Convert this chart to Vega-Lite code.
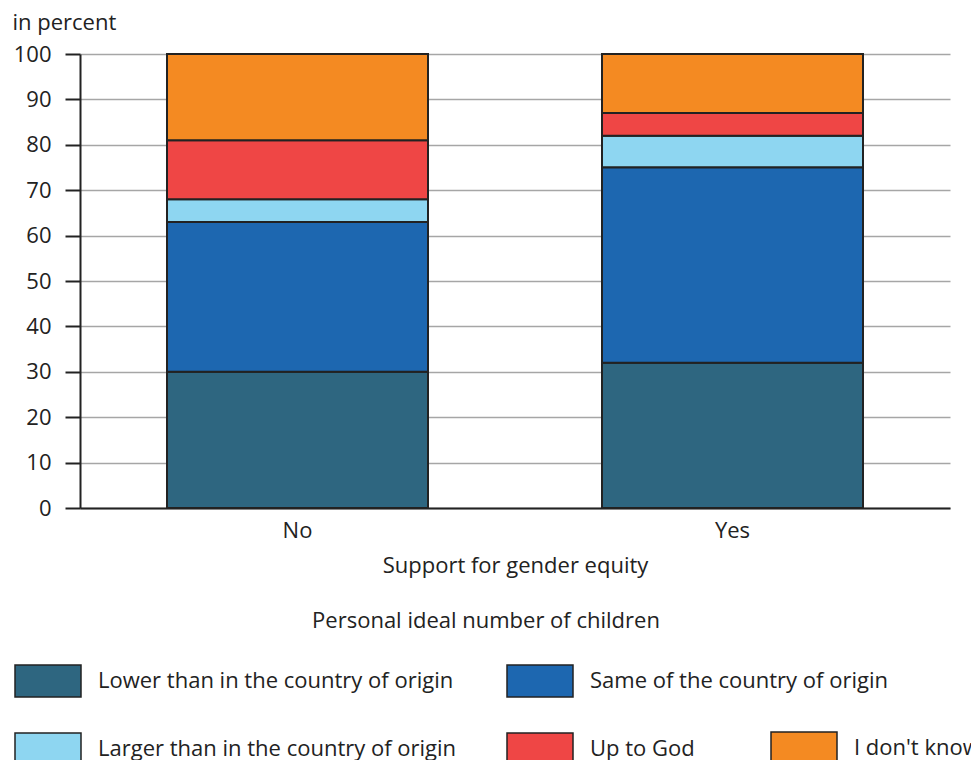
{
  "$schema": "https://vega.github.io/schema/vega-lite/v6.json",
  "autosize": {"type": "none"},
  "padding": {"left": 80, "top": 54, "right": 21, "bottom": 252},
  "width": 870,
  "height": 454,
  "config": {
    "font": "Open Sans",
    "view": {"stroke": null},
    "legend": {
      "orient": "none",
      "direction": "vertical",
      "padding": 0,
      "symbolType": "M-1,-0.485H1V0.485H-1Z",
      "symbolSize": 4356,
      "symbolStrokeColor": "#222222",
      "symbolStrokeWidth": 1.5,
      "symbolOpacity": 1,
      "labelFontSize": 22,
      "labelColor": "#222222",
      "labelOffset": 16,
      "labelLimit": 600,
      "rowPadding": 14,
      "title": null
    }
  },
  "title": {
    "text": "Personal ideal number of children",
    "orient": "bottom",
    "anchor": "middle",
    "frame": "group",
    "fontSize": 22,
    "fontWeight": "normal",
    "color": "#222222",
    "offset": -158,
    "dx": -29
  },
  "data": {
    "values": [
      {"support": "No", "category": "Lower than in the country of origin", "order": 1, "percent": 30},
      {"support": "No", "category": "Same of the country of origin", "order": 2, "percent": 33},
      {"support": "No", "category": "Larger than in the country of origin", "order": 3, "percent": 5},
      {"support": "No", "category": "Up to God", "order": 4, "percent": 13},
      {"support": "No", "category": "I don't know", "order": 5, "percent": 19},
      {"support": "Yes", "category": "Lower than in the country of origin", "order": 1, "percent": 32},
      {"support": "Yes", "category": "Same of the country of origin", "order": 2, "percent": 43},
      {"support": "Yes", "category": "Larger than in the country of origin", "order": 3, "percent": 7},
      {"support": "Yes", "category": "Up to God", "order": 4, "percent": 5},
      {"support": "Yes", "category": "I don't know", "order": 5, "percent": 13}
    ]
  },
  "transform": [
    {"stack": "percent", "groupby": ["support"], "sort": [{"field": "order", "order": "ascending"}], "as": ["y0", "y1"]}
  ],
  "encoding": {
    "x": {
      "field": "support",
      "type": "nominal",
      "scale": {"paddingInner": 0.4, "paddingOuter": 0.2},
      "axis": {
        "title": "Support for gender equity",
        "labelAngle": 0,
        "labelFontSize": 22,
        "labelColor": "#222222",
        "labelPadding": 12,
        "ticks": false,
        "domainColor": "#222222",
        "domainWidth": 2,
        "titleFontSize": 22,
        "titleFontWeight": "normal",
        "titleColor": "#222222",
        "titlePadding": 14,
        "grid": false
      }
    },
    "y": {
      "field": "y0",
      "type": "quantitative",
      "scale": {"domain": [0, 100], "nice": false},
      "axis": {
        "values": [0, 10, 20, 30, 40, 50, 60, 70, 80, 90, 100],
        "title": "in percent",
        "titleAngle": 0,
        "titleAlign": "left",
        "titleBaseline": "alphabetic",
        "titleX": -68,
        "titleY": -25,
        "titleFontSize": 22,
        "titleFontWeight": "normal",
        "titleColor": "#222222",
        "labelFontSize": 22,
        "labelColor": "#222222",
        "labelPadding": 14,
        "tickSize": 15,
        "tickColor": "#222222",
        "tickWidth": 2,
        "domainColor": "#222222",
        "domainWidth": 2,
        "gridColor": "#a6a6a6",
        "gridWidth": 1.5
      }
    },
    "y2": {"field": "y1"}
  },
  "layer": [
    {
      "transform": [{"filter": {"field": "category", "oneOf": ["Lower than in the country of origin", "Larger than in the country of origin"]}}],
      "mark": {"type": "bar", "stroke": "#222222", "strokeWidth": 2},
      "encoding": {
        "fill": {
          "field": "category",
          "type": "nominal",
          "scale": {"domain": ["Lower than in the country of origin", "Larger than in the country of origin"], "range": ["#2e6680", "#8ed6f1"]},
          "legend": {"legendX": -66, "legendY": 593}
        }
      }
    },
    {
      "transform": [{"filter": {"field": "category", "oneOf": ["Same of the country of origin", "Up to God"]}}],
      "mark": {"type": "bar", "stroke": "#222222", "strokeWidth": 2},
      "encoding": {
        "fill": {
          "field": "category",
          "type": "nominal",
          "scale": {"domain": ["Same of the country of origin", "Up to God"], "range": ["#1d67b0", "#ef4645"]},
          "legend": {"legendX": 426, "legendY": 593}
        }
      }
    },
    {
      "transform": [{"filter": {"field": "category", "oneOf": ["I don't know"]}}],
      "mark": {"type": "bar", "stroke": "#222222", "strokeWidth": 2},
      "encoding": {
        "fill": {
          "field": "category",
          "type": "nominal",
          "scale": {"domain": ["I don't know"], "range": ["#f48a22"]},
          "legend": {"legendX": 690, "legendY": 660}
        }
      }
    }
  ],
  "resolve": {"scale": {"fill": "independent"}, "legend": {"fill": "independent"}}
}
